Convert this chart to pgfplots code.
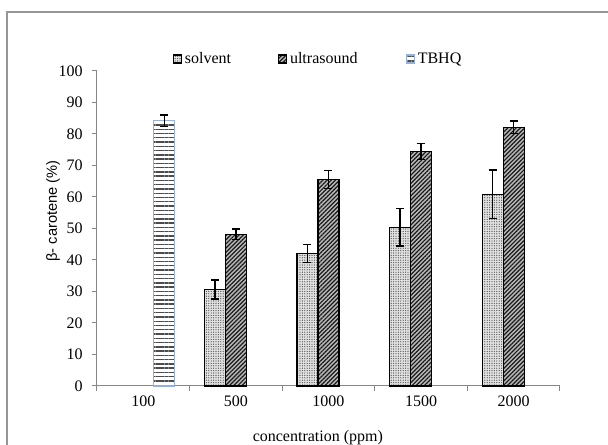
\documentclass[border=0pt]{standalone}
\usepackage{fontspec}
\setmainfont{Liberation Serif}
\newfontfamily\arialfont{Liberation Sans}
\usepackage{pgfplots}
\pgfplotsset{compat=1.18}
\usetikzlibrary{patterns.meta}

\definecolor{axisgray}{RGB}{134,134,134}
\definecolor{framegray}{RGB}{150,150,150}
\definecolor{tbhqblue}{RGB}{150,176,222}

% concentration index (1 = 100 ppm ... 5 = 2000 ppm)
\pgfplotstableread{
x  solv  solverr  ultra  ultraerr
2  30.6  3.0      48.2   1.6
3  42.1  2.8      65.6   2.8
4  50.4  6.0      74.5   2.5
5  60.9  7.7      82.1   2.0
}\groupdata

\tikzset{
  bar solvent/.style={draw=black, line width=0.9pt, fill=gray!22,
    postaction={pattern={Dots[distance=1.8pt, radius=0.5pt]}, pattern color=black!65}},
  bar ultra/.style={draw=black, line width=0.9pt, fill=gray!55,
    postaction={pattern={Lines[angle=45, distance=2.2pt, line width=0.9pt]}, pattern color=black!90}},
  bar tbhq/.style={draw=tbhqblue, line width=0.8pt, fill=white,
    postaction={pattern={Lines[angle=0, distance=3.2pt, line width=1.05pt]}, pattern color=black!70}},
}
\pgfplotsset{
  box legend/.style={legend image code/.code={\draw[##1] (0pt,-3pt) rectangle (6pt,3pt);}},
  err/.style={error bars/.cd, y dir=both, y explicit,
    error bar style={black, line width=1pt, solid},
    error mark options={rotate=90, black, mark size=3pt, line width=1pt}},
}

\begin{document}
\begin{tikzpicture}
  \path[use as bounding box] (0pt,0pt) rectangle (456pt,333.75pt);
  \draw[framegray, line width=1.3pt] (5.25pt,-2pt) -- (5.25pt,324.75pt) -- (458pt,324.75pt);
  \begin{axis}[%
    at={(72.75pt,44.25pt)}, anchor=south west,
    scale only axis,
    width=347.25pt,
    height=236.25pt,
    clip=false,
    ybar=0pt,
    bar width=15.75pt,
    % axes
    xmin=0.5, xmax=5.5,
    ymin=0, ymax=100,
    axis x line*=bottom,
    axis y line*=left,
    axis line style={axisgray, line width=0.75pt, -},
    tick style={axisgray, line width=0.75pt},
    tick align=outside,
    major tick length=3.75pt,
    xtick={0.5,1.5,...,5.5},
    x tick label as interval,
    xticklabels={100,500,1000,1500,2000},
    ytick={0,10,...,100},
    ticklabel style={font=\fontsize{12}{14}\selectfont},
    yticklabel style={xshift=-3.5pt},
    /pgf/number format/assume math mode=true,
    % legend
    legend columns=3,
    legend style={draw=none, fill=none, inner xsep=0pt,
      at={(axis description cs:0.1635,1.038)}, anchor=west,
      font=\fontsize{12}{14}\selectfont},
    ]

    \addplot[bar solvent, box legend, err]
      table[x=x, y=solv, y error=solverr] {\groupdata};
    \addlegendentry{\makebox[68pt][l]{solvent}}

    \addplot[bar ultra, box legend, err]
      table[x=x, y=ultra, y error=ultraerr] {\groupdata};
    \addlegendentry{\makebox[85pt][l]{ultrasound}}

    \addplot[bar tbhq, box legend, err]
      coordinates {(1,84.2) +- (0,1.8)};
    \addlegendentry{TBHQ}

    % axis titles
    \node[font=\fontsize{12}{14}\selectfont, anchor=center]
      at (axis description cs:0.477,-0.165) {concentration (ppm)};
    \node[font=\arialfont\fontsize{11}{13}\selectfont, rotate=90, anchor=center]
      at (axis description cs:-0.095,0.556) {β- carotene (\%)};
  \end{axis}
\end{tikzpicture}
\end{document}
